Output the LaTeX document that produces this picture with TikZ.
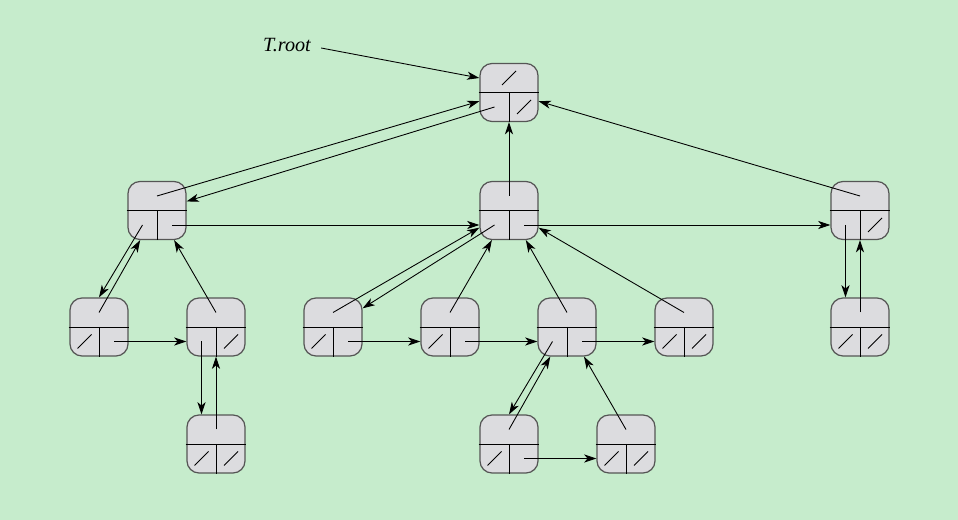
\documentclass[tikz,border=0pt]{standalone}
\usepackage{tikz}
\usetikzlibrary{arrows.meta}
\usepackage{xcolor}
\usepackage{fontspec}
\setmainfont{Liberation Serif}
\definecolor{bggreen}{RGB}{198,236,204}
\definecolor{boxgray}{RGB}{220,220,223}
\definecolor{rimgray}{RGB}{85,85,85}
\tikzset{
  cell/.style = {draw=rimgray, fill=boxgray, line width=0.7pt, rounded corners=0.24cm,
                 minimum size=1.16cm, inner sep=0pt},
  ptr/.style  = {line width=0.5pt, -{Stealth[length=7pt,width=4.6pt,inset=2pt]}},
  nil/.style  = {line width=0.5pt},
}

\begin{document}
\begin{tikzpicture}[x=0.02cm, y=-0.02cm, line width=0.5pt]

% ── Canvas (pixel units, y downwards) ─────────────────────────
\fill[bggreen] (0,0) rectangle (958,520);
\useasboundingbox (0,0) rectangle (958,520);

% ── Tree nodes: parent field on top, left-child | right-sibling below
\foreach \n/\x/\y in {%
    root/509/92.5,
    A/157/210.5, B/509/210.5, D/860/210.5,
    E/99/327, F/216/327, H/333/327, I/450/327, J/567/327, K/684/327, N/860/327,
    G/216/444, L/509/444, M/626/444}{
  \node[cell] (\n) at (\x,\y) {};
  \draw[shorten <=-0.5pt, shorten >=-0.5pt] (\n.west) -- (\n.east);
  \draw (\n.center) -- (\n.south);
  \coordinate (\n-p) at ([shift={(0,-14.5)}]\n.center);
  \coordinate (\n-l) at ([shift={(-14.5,14.5)}]\n.center);
  \coordinate (\n-r) at ([shift={(15,14.5)}]\n.center);
}

% NIL fields get a slash
\foreach \f in {root-p, root-r, D-r, E-l, F-r, G-l, G-r, H-l, I-l,
                K-l, K-r, L-l, M-l, M-r, N-l, N-r}{
  \draw[nil] ([shift={(-7,7)}]\f) -- ([shift={(7,-7)}]\f);
}

% ── Parent pointers ───────────────────────────────────────────
\foreach \c/\p in {A/root, B/root, D/root, E/A, F/A, G/F,
                   H/B, I/B, J/B, K/B, L/J, M/J, N/D}{
  \draw[ptr] (\c-p) -- (\p);
}

% ── Left-child pointers ───────────────────────────────────────
\draw[ptr] (root-l) -- (A);
\draw[ptr] (A-l) -- (E.north);
\draw[ptr] (B-l) -- (H);
\draw[ptr] (D-l) -- (D-l |- N.north);
\draw[ptr] (F-l) -- (F-l |- G.north);
\draw[ptr] (J-l) -- (L.north);

% ── Right-sibling pointers ────────────────────────────────────
\foreach \a/\b in {A/B, B/D, E/F, H/I, I/J, J/K, L/M}{
  \draw[ptr] (\a-r) -- (\a-r -| \b.west);
}

% Root label
\node[font=\fontsize{11.5}{14}\selectfont\itshape] (troot) at (287,45) {T.root};
\draw[ptr] ([shift={(4,3)}]troot.east) -- (root.west |- root-p);

\end{tikzpicture}
\end{document}
